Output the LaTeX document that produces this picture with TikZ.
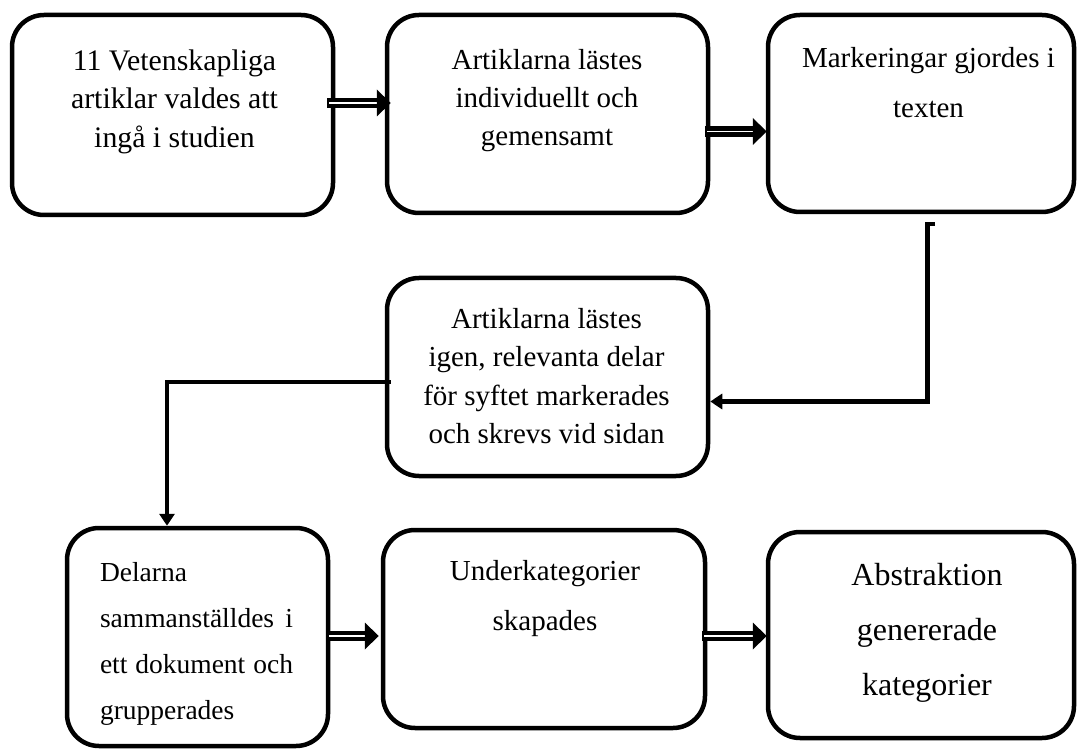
\documentclass[tikz,border=0pt]{standalone}
\usepackage{fontspec}
\setmainfont{Liberation Serif}
\usetikzlibrary{calc,arrows.meta}
\newcommand\blockarrow[2]{%
  \draw[line width=10.5pt] (#1) -- ($(#2)+(-13,0)$);
  \draw[white,line width=1.8pt] ($(#1)+(2,0)$) -- ($(#2)+(-14,0)$);
  \fill (#2) -- ($(#2)+(-14,-13.5)$) -- ($(#2)+(-14,13.5)$) -- cycle;}
\newcommand\st[1]{\rule{0pt}{#1}}
\tikzset{
  box/.style={draw, line width=4.5pt, rounded corners=32pt, inner sep=0pt},
  txt/.style={inner sep=0pt, align=center, anchor=north, font={\fontsize{29}{38.5}\selectfont}},
  conn/.style={line width=4.8pt, -{Triangle[length=12pt,width=15pt]}}
}
\begin{document}
\begin{tikzpicture}[x=1pt,y=-1pt]
\useasboundingbox[fill=white] (0,0) rectangle (1077,751);
% boxes
\node[box, minimum width=321pt, minimum height=200pt] (b1) at (172.5,115) {};
\node[box, minimum width=321pt, minimum height=198pt] (b2) at (547.5,114) {};
\node[box, minimum width=306pt, minimum height=197pt] (b3) at (921,113.5) {};
\node[box, minimum width=321pt, minimum height=198pt] (b4) at (547.5,377) {};
\node[box, minimum width=261pt, minimum height=218pt] (b5) at (197.5,637) {};
\node[box, minimum width=322pt, minimum height=198pt] (b6) at (544,629) {};
\node[box, minimum width=306pt, minimum height=206pt] (b7) at (921,635) {};
% texts
\node[txt, font={\fontsize{29.8}{38.5}\selectfont}] (t1) at (174.5,48) {\st{22pt}11 Vetenskapliga\\artiklar valdes att\\ingå i studien};
\node[txt, font={\fontsize{29}{38}\selectfont}] (t2) at (547,47) {\st{22pt}Artiklarna lästes\\individuellt och\\gemensamt};
\node[txt, font={\fontsize{29}{50}\selectfont}] (t3) at (928.5,45) {\st{22pt}Markeringar gjordes i\\texten};
\node[txt] (t4) at (546.5,306) {\st{22pt}Artiklarna lästes\\igen, relevanta delar\\för syftet markerades\\och skrevs vid sidan};
\node[txt, align=left, text width=193pt, font={\fontsize{27.5}{46}\selectfont}] (t5) at (196.5,560) {\st{21pt}Delarna\\sammanställdes\hfill i\\ett\hfill dokument\hfill och\\grupperades};
\node[txt, font={\fontsize{29}{50}\selectfont}] (t6) at (545,558) {\st{22pt}Underkategorier\\skapades};
\node[txt, font={\fontsize{32}{55}\selectfont}] (t7) at (927,561) {\st{24pt}Abstraktion\\genererade\\kategorier};
% block arrows
\coordinate (a1s) at ($(b1.east)+(-8,-12)$);
\coordinate (a1t) at ($(b2.west |- a1s)+(6,0)$);
\blockarrow{a1s}{a1t}
\coordinate (a2s) at ($(b2.east)+(-5,17.5)$);
\coordinate (a2t) at ($(b3.west |- a2s)+(1,0)$);
\blockarrow{a2s}{a2t}
\coordinate (a3s) at ($(b5.east)+(-3,-1)$);
\coordinate (a3t) at ($(b6.west |- a3s)+(-2,0)$);
\blockarrow{a3s}{a3t}
\coordinate (a4s) at ($(b6.east)+(-5,7)$);
\coordinate (a4t) at ($(b7.west |- a4s)+(1,0)$);
\blockarrow{a4s}{a4t}
% elbow connectors
\coordinate (e1) at (935,224);
\draw[conn] (e1) -- ++(-7.5,0) |- ($(b4.east)+(0,24.5)$);
\draw[conn] ($(b4.west)+(6,5)$) -| ($(b5.north)+(-30.5,0)$);
\end{tikzpicture}
\end{document}
